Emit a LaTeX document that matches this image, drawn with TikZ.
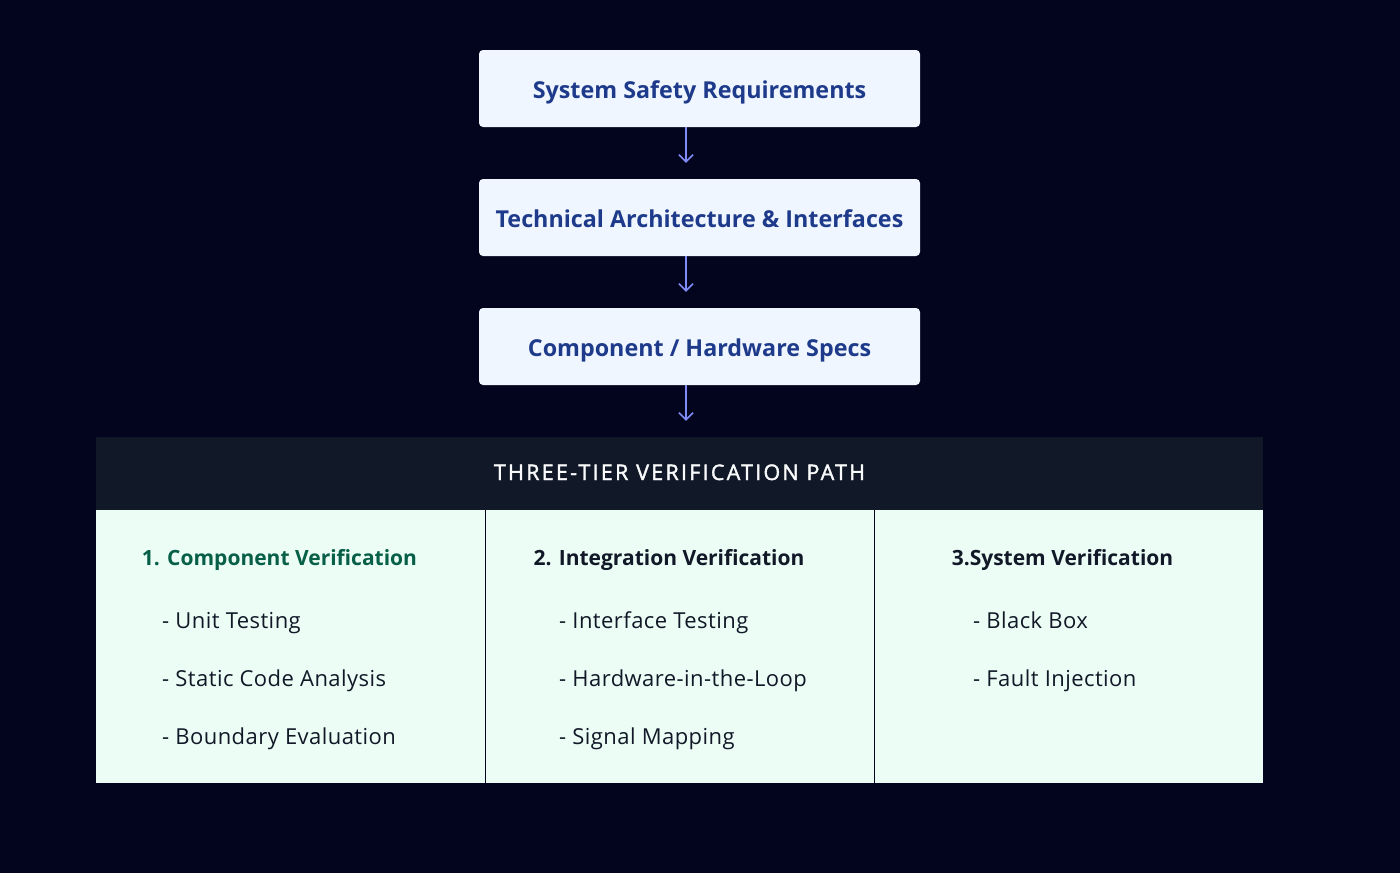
\documentclass[tikz,border=0pt]{standalone}
\usepackage{fontspec}
\setmainfont{Open Sans}
\usepackage{tikz}
\usetikzlibrary{arrows.meta,positioning}
\definecolor{pagebg}{HTML}{03051E}
\definecolor{reqfill}{HTML}{EFF6FF}
\definecolor{reqtext}{HTML}{1E3A8A}
\definecolor{flowcol}{HTML}{818CF8}
\definecolor{bandfill}{HTML}{111827}
\definecolor{bandtext}{HTML}{F9FAFB}
\definecolor{tierfill}{HTML}{ECFDF5}
\definecolor{tiergreen}{HTML}{065F46}
\definecolor{tierdark}{HTML}{111827}

\begin{document}
\begin{tikzpicture} [
  x=1pt, y=-1pt,
  req box/.style= {rectangle,rounded corners=4pt,fill=reqfill,text=reqtext,
    minimum width=441pt,minimum height=77pt,inner sep=0pt,
    text height=19pt,text depth=0pt,
    font=\fontsize{23.3}{27}\selectfont\bfseries},
  flow arrow/.style= {draw=flowcol,line width=1.6pt,shorten >=16pt,
    -{Straight Barb[length=7pt,width=14pt,line width=1.6pt]}},
  band/.style= {rectangle,fill=bandfill,text=bandtext,inner sep=0pt,
    minimum width=1167pt,minimum height=73pt,
    text height=13pt,text depth=0pt,
    font=\fontsize{21.5}{25}\selectfont\addfontfeatures{LetterSpace=10.5,FakeBold=1.8}},
  tier col/.style= {rectangle,fill=tierfill,inner sep=0pt,
    minimum width=389.5pt,minimum height=273pt},
  tier title/.style= {anchor=base,text=tierdark,inner sep=0pt,
    font=\fontsize{21}{25}\selectfont\bfseries},
  tier item/.style= {anchor=base west,text=tierdark,inner sep=0pt,
    font=\fontsize{22}{26}\selectfont\addfontfeatures{LetterSpace=2}}
]
\fill [pagebg] (0,0) rectangle (1400,873);

% requirement chain
\node (R1) [req box] at (699.5,88.5) {System Safety Requirements};
\node (R2) [req box] at (699.5,217.5) {Technical Architecture \& Interfaces};
\node (R3) [req box] at (699.5,346.5) {Component / Hardware Specs};

% verification block
\node (H) [band] at (679.5,473.5) {THREE-TIER VERIFICATION PATH};
\node (T1) [tier col,anchor=north west] at (96,510) {};
\node (T2) [tier col,anchor=north west] at (484.5,510) {};
\node (T3) [tier col,anchor=north west] at (873.5,510) {};
\draw [pagebg,line width=1pt] (T1.north east) -- (T1.south east);
\draw [pagebg,line width=1pt] (T2.north east) -- (T2.south east);

\draw [flow arrow] ([xshift=-13.5pt]R1.south) -- ([xshift=-13.5pt]R2.north);
\draw [flow arrow] ([xshift=-13.5pt]R2.south) -- ([xshift=-13.5pt]R3.north);
\draw [flow arrow] ([xshift=-13.5pt]R3.south) -- ([xshift=-13.5pt]R3.south |- H.north);

\node (C1) [tier title,text=tiergreen] at (279.5,565) {1. Component Verification};
\node (C2) [tier title] at (669,565) {2. Integration Verification};
\node (C3) [tier title] at (1062.5,565) {3.System Verification};

\foreach \txt [count=\i] in {Unit Testing,Static Code Analysis,Boundary Evaluation}
  \node (A\i) [tier item] at (162,570+58*\i) {- \txt};
\foreach \txt [count=\i] in {Interface Testing,Hardware-in-the-Loop,Signal Mapping}
  \node (B\i) [tier item] at (559,570+58*\i) {- \txt};
\foreach \txt [count=\i] in {Black Box,Fault Injection}
  \node (D\i) [tier item] at (973,570+58*\i) {- \txt};
\end{tikzpicture}
\end{document}
